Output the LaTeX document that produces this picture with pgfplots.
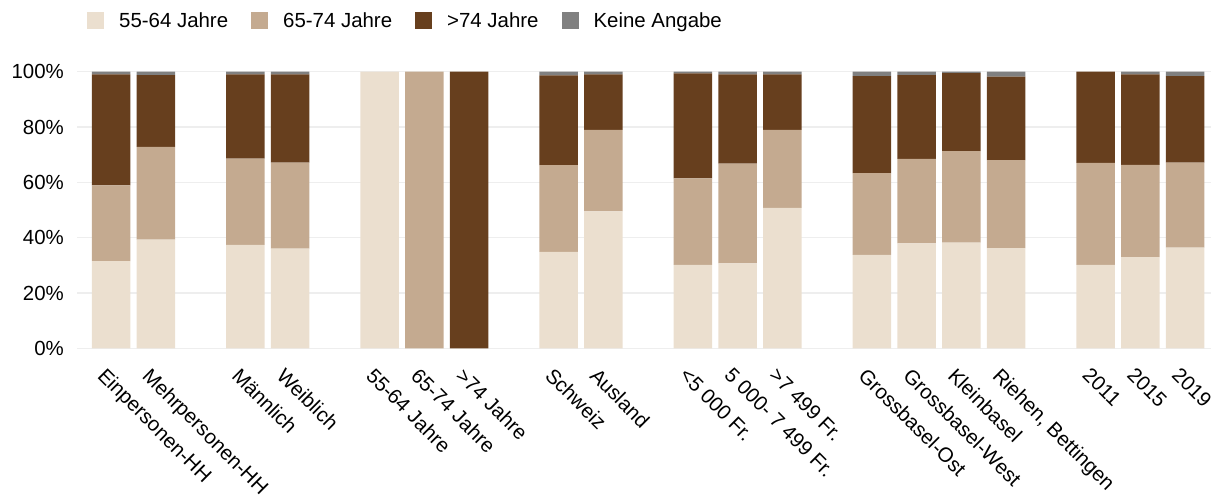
\documentclass[border=0pt]{standalone}
\usepackage{fontspec}
\setmainfont{Liberation Sans}
\usepackage{pgfplots}
\pgfplotsset{compat=1.18}
\definecolor{cA}{HTML}{EBDFCF}
\definecolor{cB}{HTML}{C4AA90}
\definecolor{cC}{HTML}{673F1E}
\definecolor{cD}{HTML}{808080}
\definecolor{gridc}{HTML}{EEEEEE}
\newcommand\fs{\fontsize{20.5}{24}\selectfont}
\begin{document}
\begin{tikzpicture}
\useasboundingbox (-77bp,-151.7bp) rectangle (1134bp,348.3bp);
\begin{axis}[
  at={(0,0)}, anchor=south west,
  scale only axis, width=1134bp, height=276.6bp,
  ybar stacked, bar width=0.86,
  xmin=-0.76, xmax=24.58, ymin=0, ymax=100,
  axis line style={draw=none},
  major tick length=0pt,
  ymajorgrids, grid style={color=gridc, line width=1.3bp},
  ytick={0,20,40,60,80,100},
  yticklabel={\pgfmathprintnumber{\tick}\%},
  /pgf/number format/assume math mode=true,
  yticklabel style={font=\fs, inner sep=0pt, anchor=east, xshift=-13bp},
  xtick={0,1,3,4,6,7,8,10,11,13,14,15,17,18,19,20,22,23,24},
  xticklabels={Einpersonen-HH, Mehrpersonen-HH, Männlich, Weiblich, 55-64 Jahre, 65-74 Jahre, >74 Jahre, Schweiz, Ausland, <5 000 Fr., 5 000- 7 499 Fr., >7 499 Fr., Grossbasel-Ost, Grossbasel-West, Kleinbasel, {Riehen, Bettingen}, 2011, 2015, 2019},
  xticklabel style={font=\fs, inner sep=0pt, xshift=13bp, yshift=-1bp, rotate=-45, anchor=north west, yshift=-24bp},
  legend columns=-1,
  legend style={at={(0.00882,1.1851)}, anchor=west, draw=none, fill=none, inner sep=0pt, font=\fs,
    /tikz/every even column/.append style={column sep=21bp}},
  legend image code/.code={\fill[#1] (0bp,-8.5bp) rectangle (17bp,8.5bp); \path (30bp,0bp);},
]
\addplot[fill=cA, draw=none] coordinates {(0,31.5) (1,39.3) (3,37.4) (4,36.0) (6,100) (7,0) (8,0) (10,34.9) (11,49.5) (13,30.2) (14,30.7) (15,50.8) (17,33.8) (18,37.9) (19,38.2) (20,36.2) (22,30.2) (23,33.0) (24,36.4)};
\addlegendentry{55-64 Jahre}
\addplot[fill=cB, draw=none] coordinates {(0,27.4) (1,33.5) (3,31.2) (4,31.1) (6,0) (7,100) (8,0) (10,31.3) (11,29.5) (13,31.2) (14,36.1) (15,28.2) (17,29.5) (18,30.6) (19,33.1) (20,31.8) (22,36.8) (23,33.3) (24,30.7)};
\addlegendentry{65-74 Jahre}
\addplot[fill=cC, draw=none] coordinates {(0,40.1) (1,26.0) (3,30.4) (4,31.9) (6,0) (7,0) (8,100) (10,32.5) (11,20.0) (13,38.0) (14,32.2) (15,20.0) (17,35.1) (18,30.3) (19,28.2) (20,30.2) (22,33.0) (23,32.7) (24,31.3)};
\addlegendentry{>74 Jahre}
\addplot[fill=cD, draw=none] coordinates {(0,1.0) (1,1.2) (3,1.0) (4,1.0) (6,0) (7,0) (8,0) (10,1.3) (11,1.0) (13,0.6) (14,1.0) (15,1.0) (17,1.6) (18,1.2) (19,0.5) (20,1.8) (22,0.0) (23,1.0) (24,1.6)};
\addlegendentry{Keine Angabe}
\end{axis}
\end{tikzpicture}
\end{document}
